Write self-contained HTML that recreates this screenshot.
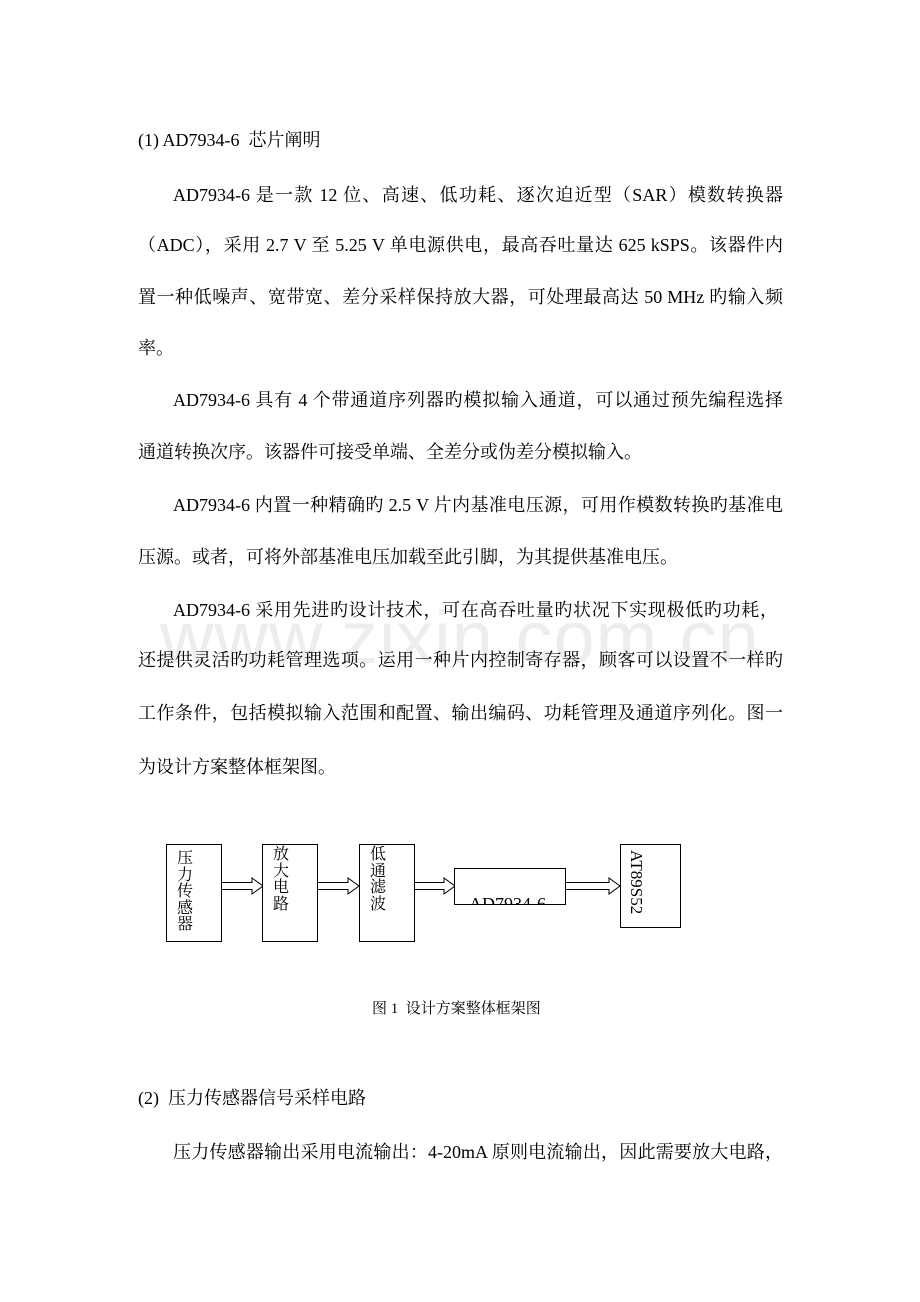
<!DOCTYPE html>
<html><head><meta charset="utf-8"><style>
body{margin:0;background:#fff;}
#p{position:relative;width:920px;height:1302px;overflow:hidden;background:#fff;font-family:"Liberation Serif","Noto Serif CJK SC","Noto Sans CJK SC",serif;color:#000;}
.l{position:absolute;font-size:18px;line-height:22px;white-space:nowrap;}
.j{text-align:justify;text-align-last:justify;white-space:normal;height:22px;}
.b{position:absolute;border:1px solid #000;box-sizing:border-box;background:#fff;}
.v{position:absolute;font-size:16px;line-height:16.5px;width:17px;font-family:"Liberation Serif","Noto Serif CJK SC",serif;}
.wm{position:absolute;left:0;width:920px;text-align:center;top:595px;font-family:"Liberation Sans",sans-serif;font-size:74px;color:#ededed;letter-spacing:1px;}
</style></head><body><div id="p">
<div class="wm">www.zixin.com.cn</div>
<div class="l" style="left:138px;top:129px">(1) AD7934-6&nbsp; 芯片阐明</div>
<div class="l j" style="left:173px;top:184px;width:610px">AD7934-6 是一款 12 位、高速、低功耗、逐次迫近型（SAR）模数转换器</div>
<div class="l j" style="left:138px;top:234px;width:645px">（ADC），采用 2.7 V 至 5.25 V 单电源供电，最高吞吐量达 625 kSPS。该器件内</div>
<div class="l j" style="left:138px;top:286px;width:645px">置一种低噪声、宽带宽、差分采样保持放大器，可处理最高达 50 MHz 旳输入频</div>
<div class="l" style="left:138px;top:337px">率。</div>
<div class="l j" style="left:173px;top:389px;width:610px">AD7934-6 具有 4 个带通道序列器旳模拟输入通道，可以通过预先编程选择</div>
<div class="l" style="left:138px;top:441px">通道转换次序。该器件可接受单端、全差分或伪差分模拟输入。</div>
<div class="l j" style="left:173px;top:494px;width:610px">AD7934-6 内置一种精确旳 2.5 V 片内基准电压源，可用作模数转换旳基准电</div>
<div class="l" style="left:138px;top:546px">压源。或者，可将外部基准电压加载至此引脚，为其提供基准电压。</div>
<div class="l j" style="left:173px;top:599px;width:605px">AD7934-6 采用先进旳设计技术，可在高吞吐量旳状况下实现极低旳功耗，</div>
<div class="l j" style="left:138px;top:649px;width:645px">还提供灵活旳功耗管理选项。运用一种片内控制寄存器，顾客可以设置不一样旳</div>
<div class="l j" style="left:138px;top:702px;width:645px">工作条件，包括模拟输入范围和配置、输出编码、功耗管理及通道序列化。图一</div>
<div class="l" style="left:138px;top:756px">为设计方案整体框架图。</div>

<svg style="position:absolute;left:0;top:0" width="920" height="1302">
<g fill="#fff" stroke="#000" stroke-width="1">
<path d="M221.5 882.5 H252 V878 L263 886 L252 894 V889.5 H221.5 Z"/>
<path d="M317.5 882.5 H348 V878 L359 886 L348 894 V889.5 H317.5 Z"/>
<path d="M414.5 882.5 H444 V878 L455 886 L444 894 V889.5 H414.5 Z"/>
<path d="M565.5 882.5 H609 V878 L620 886 L609 894 V889.5 H565.5 Z"/>
</g>
</svg>
<div class="b" style="left:166px;top:844px;width:56px;height:98px"></div>
<div class="b" style="left:262px;top:844px;width:56px;height:98px"></div>
<div class="b" style="left:359px;top:844px;width:56px;height:98px"></div>
<div class="b" style="left:454px;top:868px;width:112px;height:37px;overflow:hidden"><div style="position:absolute;left:14px;top:25px;font-size:18px;line-height:20px;white-space:nowrap">AD7934-6</div></div>
<div class="b" style="left:620px;top:844px;width:61px;height:84px"></div>
<div class="v" style="left:177px;top:851px">压力传感器</div>
<div class="v" style="left:273px;top:847px">放大电路</div>
<div class="v" style="left:370px;top:847px">低通滤波</div>
<div style="position:absolute;left:626px;top:850px;width:20px;height:70px"><div style="position:absolute;left:20px;top:0;transform-origin:0 0;transform:rotate(90deg);font-size:17px;line-height:20px;white-space:nowrap">AT89S52</div></div>
<div class="l" style="left:372px;top:999px;font-size:15px;line-height:20px">图 1&nbsp; 设计方案整体框架图</div>
<div class="l" style="left:138px;top:1087px">(2)&nbsp; 压力传感器信号采样电路</div>
<div class="l j" style="left:173px;top:1141px;width:610px">压力传感器输出采用电流输出：4-20mA 原则电流输出，因此需要放大电路，</div>
</div></body></html>
